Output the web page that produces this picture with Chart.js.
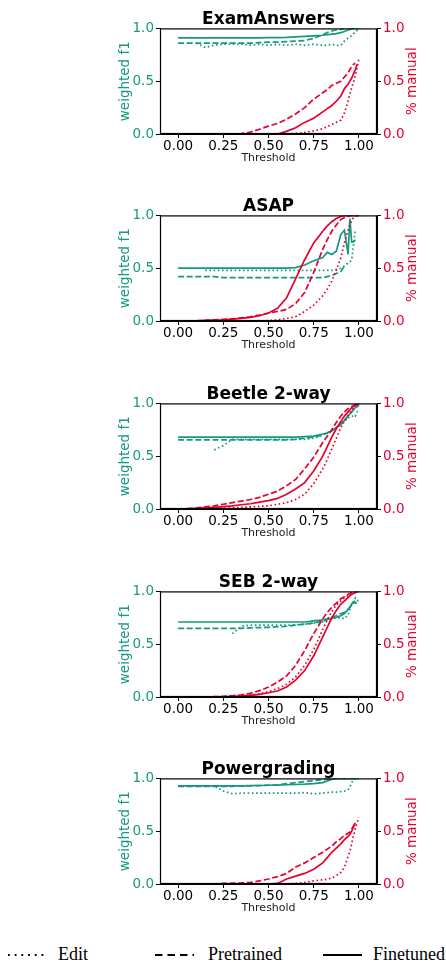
<!DOCTYPE html>
<html>
<head>
<meta charset="utf-8">
<script src="https://cdn.jsdelivr.net/npm/chart.js@4/dist/chart.umd.min.js"></script>
<style>
  body { margin: 0; background: #fff; }
  #page { position: relative; width: 446px; height: 965px; overflow: hidden; }
  .panel { position: absolute; left: 0; }
  #legend { position: absolute; left: 0; top: 935px; }
</style>
</head>
<body>
<div id="page">
  <canvas class="panel" id="p0" width="446" height="158"></canvas>
  <canvas class="panel" id="p1" width="446" height="158"></canvas>
  <canvas class="panel" id="p2" width="446" height="158"></canvas>
  <canvas class="panel" id="p3" width="446" height="158"></canvas>
  <canvas class="panel" id="p4" width="446" height="158"></canvas>
  <svg id="legend" width="446" height="30">
    <line x1="8" y1="20" x2="48" y2="20" stroke="#000" stroke-width="2" stroke-dasharray="1.8 4.9"/>
    <text x="58" y="25" font-family="Liberation Serif" font-size="18">Edit</text>
    <line x1="155" y1="20" x2="194" y2="20" stroke="#000" stroke-width="2" stroke-dasharray="7.5 5"/>
    <text x="208" y="25" font-family="Liberation Serif" font-size="18">Pretrained</text>
    <line x1="323" y1="20" x2="362" y2="20" stroke="#000" stroke-width="2"/>
    <text x="373" y="25" font-family="Liberation Serif" font-size="18">Finetuned</text>
  </svg>
</div>
<script>
// umbrales comunes (eje x)
const thresholds = [0, 0.05, 0.1, 0.15, 0.2, 0.25, 0.3, 0.35, 0.4, 0.45, 0.5, 0.55, 0.6, 0.65, 0.7, 0.75,
    0.8, 0.825, 0.85, 0.875, 0.9, 0.92, 0.94, 0.95, 0.96, 0.97, 0.98, 0.99, 1.0];
const xTicks = [0, 0.25, 0.5, 0.75, 1.0];
const yTicks = [0, 0.5, 1.0];
const titles = ['ExamAnswers', 'ASAP', 'Beetle 2-way', 'SEB 2-way', 'Powergrading'];

// ExamAnswers
const examF1Edit = [null, null, 0.86, 0.82, 0.84, 0.85, 0.85, 0.85, 0.84, 0.85, 0.84, 0.85, 0.84, 0.85, 0.84, 0.85,
    0.84, 0.84, 0.85, 0.84, 0.84, 0.88, 0.91, 0.92, 0.93, 0.95, 0.96, 0.98, 0.99];
const examF1Pre = [0.86, 0.86, 0.86, 0.86, 0.86, 0.86, 0.86, 0.86, 0.86, 0.865, 0.87, 0.87, 0.875, 0.88, 0.885, 0.905,
    0.94, 0.96, 0.975, 0.985, 0.99, 1.0, 1.0, 1.0, 1.0, 1.0, 1.0, 1.0, 1.0];
const examF1Fine = [0.91, 0.91, 0.91, 0.91, 0.91, 0.91, 0.91, 0.91, 0.91, 0.91, 0.912, 0.913, 0.915, 0.92, 0.925, 0.93,
    0.935, 0.94, 0.945, 0.95, 0.96, 0.97, 0.985, 0.99, 1.0, 1.0, 1.0, 1.0, 1.0];
const examManEdit = [0, 0, 0, 0, 0, 0, 0, 0, 0, 0, 0, 0, 0, 0.005, 0.015, 0.03,
    0.05, 0.07, 0.09, 0.11, 0.13, 0.2, 0.31, 0.38, 0.44, 0.49, 0.55, 0.63, 0.71];
const examManPre = [0, 0, 0, 0, 0, 0, 0, 0.003, 0.018, 0.045, 0.075, 0.1, 0.14, 0.19, 0.25, 0.33,
    0.39, 0.42, 0.46, 0.48, 0.5, 0.54, 0.58, 0.61, 0.64, 0.66, 0.67, null, null];
const examManFine = [0, 0, 0, 0, 0, 0, 0, 0, 0, 0, 0, 0, 0.025, 0.06, 0.11, 0.15,
    0.21, 0.24, 0.27, 0.31, 0.36, 0.43, 0.47, 0.5, 0.53, 0.57, 0.61, 0.66, null];

// ASAP
const asapF1Edit = [null, null, null, 0.48, 0.48, 0.48, 0.48, 0.48, 0.48, 0.48, 0.48, 0.48, 0.48, 0.48, 0.48, 0.48,
    0.48, 0.48, 0.48, 0.49, 0.5, 0.52, 0.55, 0.56, 0.58, 0.72, 0.87, null, null];
const asapF1Pre = [0.42, 0.42, 0.42, 0.42, 0.42, 0.41, 0.41, 0.41, 0.41, 0.41, 0.41, 0.41, 0.41, 0.41, 0.41, 0.41,
    0.41, 0.42, 0.43, 0.45, 0.47, 0.52, null, null, null, null, null, null, null];
const asapF1Fine = [0.5, 0.5, 0.5, 0.5, 0.5, 0.5, 0.5, 0.5, 0.5, 0.5, 0.5, 0.5, 0.5, 0.505, 0.53, 0.57,
    0.6, 0.65, 0.63, 0.66, 0.82, 0.86, 0.63, 0.97, 0.75, 0.75, 0.77, null, null];
const asapManEdit = [0, 0, 0, 0, 0, 0, 0, 0, 0, 0, 0.005, 0.01, 0.025, 0.04, 0.09, 0.15,
    0.24, 0.3, 0.38, 0.48, 0.6, 0.74, 0.86, 0.91, 0.95, 0.98, 0.99, 1.0, 1.0];
const asapManPre = [0, 0, 0.002, 0.005, 0.01, 0.015, 0.02, 0.03, 0.04, 0.055, 0.075, 0.09, 0.11, 0.165, 0.27, 0.46,
    0.68, 0.77, 0.85, 0.91, 0.96, 0.98, 0.99, 1.0, 1.0, 1.0, 1.0, 1.0, 1.0];
const asapManFine = [0, 0, 0.002, 0.005, 0.008, 0.012, 0.018, 0.025, 0.035, 0.05, 0.075, 0.12, 0.22, 0.4, 0.58, 0.74,
    0.85, 0.9, 0.94, 0.97, 0.99, 1.0, 1.0, 1.0, 1.0, 1.0, 1.0, 1.0, 1.0];

// Beetle 2-way
const beetleF1Edit = [null, null, null, null, 0.56, 0.6, 0.66, 0.66, 0.66, 0.66, 0.66, 0.66, 0.66, 0.66, 0.66, 0.67,
    0.7, 0.72, 0.75, 0.77, 0.8, 0.83, 0.86, 0.87, 0.87, 0.89, 0.88, 0.92, 0.94];
const beetleF1Pre = [0.655, 0.655, 0.655, 0.655, 0.655, 0.655, 0.655, 0.655, 0.655, 0.655, 0.655, 0.655, 0.655, 0.66, 0.67, 0.68,
    0.7, 0.72, 0.74, 0.77, 0.8, 0.84, 0.88, 0.9, 0.92, 0.94, 0.96, 0.97, 0.98];
const beetleF1Fine = [0.68, 0.68, 0.68, 0.68, 0.68, 0.68, 0.68, 0.68, 0.68, 0.68, 0.68, 0.68, 0.68, 0.68, 0.685, 0.69,
    0.71, 0.72, 0.74, 0.77, 0.81, 0.84, 0.88, 0.9, 0.92, 0.94, 0.96, 0.97, 0.99];
const beetleManEdit = [0, 0, 0, 0.002, 0.005, 0.007, 0.01, 0.015, 0.02, 0.025, 0.03, 0.045, 0.06, 0.09, 0.14, 0.24,
    0.38, 0.47, 0.57, 0.67, 0.77, 0.83, 0.89, 0.91, 0.94, 0.96, 0.98, 0.99, 1.0];
const beetleManPre = [0, 0.003, 0.01, 0.02, 0.03, 0.045, 0.06, 0.075, 0.09, 0.11, 0.14, 0.17, 0.22, 0.28, 0.38, 0.49,
    0.63, 0.69, 0.75, 0.82, 0.88, 0.92, 0.95, 0.96, 0.97, 0.98, 0.99, 1.0, 1.0];
const beetleManFine = [0, 0.002, 0.005, 0.01, 0.015, 0.022, 0.03, 0.04, 0.05, 0.065, 0.08, 0.1, 0.14, 0.19, 0.25, 0.36,
    0.5, 0.59, 0.68, 0.76, 0.83, 0.88, 0.92, 0.94, 0.96, 0.97, 0.98, 0.99, 1.0];

// SEB 2-way
const sebF1Edit = [null, null, null, null, null, null, 0.6, 0.67, 0.68, 0.68, 0.68, 0.68, 0.68, 0.685, 0.69, 0.7,
    0.71, 0.73, 0.74, 0.75, 0.75, 0.74, 0.78, 0.83, 0.87, 0.9, 0.94, 0.92, 0.9];
const sebF1Pre = [0.65, 0.65, 0.65, 0.65, 0.65, 0.65, 0.65, 0.65, 0.655, 0.657, 0.66, 0.665, 0.67, 0.68, 0.69, 0.7,
    0.72, 0.735, 0.755, 0.77, 0.79, 0.8, 0.83, 0.85, 0.87, 0.89, 0.91, null, null];
const sebF1Fine = [0.71, 0.71, 0.71, 0.71, 0.71, 0.71, 0.71, 0.71, 0.71, 0.71, 0.71, 0.71, 0.71, 0.71, 0.71, 0.72,
    0.73, 0.74, 0.745, 0.755, 0.77, 0.79, 0.83, 0.85, 0.88, 0.9, 0.89, 0.89, null];
const sebManEdit = [0, 0, 0, 0, 0, 0, 0.005, 0.01, 0.02, 0.03, 0.05, 0.08, 0.12, 0.19, 0.3, 0.45,
    0.64, 0.73, 0.81, 0.87, 0.91, 0.94, 0.96, 0.97, 0.98, 0.985, 0.99, 1.0, 1.0];
const sebManPre = [0, 0, 0, 0, 0.003, 0.006, 0.012, 0.02, 0.035, 0.06, 0.094, 0.14, 0.2, 0.3, 0.44, 0.6,
    0.74, 0.8, 0.85, 0.89, 0.93, 0.95, 0.97, 0.98, 0.99, 1.0, 1.0, 1.0, null];
const sebManFine = [0, 0, 0, 0, 0, 0, 0.005, 0.008, 0.015, 0.025, 0.04, 0.057, 0.094, 0.16, 0.25, 0.39,
    0.57, 0.66, 0.75, 0.82, 0.88, 0.91, 0.94, 0.96, 0.97, 0.98, 0.99, 1.0, 1.0];

// Powergrading
const powerF1Edit = [0.93, 0.93, 0.93, 0.93, 0.93, 0.88, 0.855, 0.86, 0.86, 0.86, 0.86, 0.86, 0.86, 0.86, 0.865, 0.855,
    0.86, 0.865, 0.87, 0.87, 0.875, 0.88, 0.89, 0.92, 0.96, 0.99, 1.0, null, null];
const powerF1Pre = [0.925, 0.925, 0.925, 0.925, 0.925, 0.925, 0.925, 0.927, 0.93, 0.932, 0.935, 0.94, 0.95, 0.96, 0.97, 0.98,
    0.99, 0.99, 0.995, 1.0, 1.0, 1.0, 1.0, 1.0, 1.0, 1.0, 1.0, 1.0, 1.0];
const powerF1Fine = [0.93, 0.93, 0.93, 0.93, 0.93, 0.93, 0.93, 0.93, 0.932, 0.933, 0.935, 0.937, 0.94, 0.942, 0.945, 0.95,
    0.96, 0.975, 0.99, 1.0, 1.0, 1.0, 1.0, 1.0, 1.0, 1.0, 1.0, 1.0, 1.0];
const powerManEdit = [0, 0, 0, 0, 0, 0, 0, 0, 0, 0, 0, 0, 0, 0.005, 0.015, 0.03,
    0.04, 0.045, 0.057, 0.08, 0.11, 0.16, 0.26, 0.31, 0.38, 0.46, 0.52, 0.58, 0.63];
const powerManPre = [0, 0, 0, 0, 0, 0.005, 0.008, 0.01, 0.015, 0.03, 0.047, 0.07, 0.1, 0.16, 0.2, 0.25,
    0.3, 0.33, 0.36, 0.4, 0.43, 0.46, 0.48, 0.49, 0.52, 0.55, 0.57, null, null];
const powerManFine = [0, 0, 0, 0, 0, 0, 0, 0, 0, 0, 0, 0.005, 0.047, 0.075, 0.1, 0.14,
    0.2, 0.25, 0.3, 0.34, 0.38, 0.42, 0.45, 0.47, 0.5, 0.54, 0.58, null, null];

const panelTops = [28, 215, 403, 591, 778];

const TEAL = '#16997e';
const RED = '#e6002e';
const FONT = 'DejaVu Sans';
const DOTTED = [1.6, 2.6];
const DASHED = [6, 2.6];

function toPoints(ys) {
    return thresholds.map((x, i) => ({ x: x, y: ys[i] })).filter((p) => p.y !== null);
}

function line(ys, color, dash, axis) {
    return {
        data: toPoints(ys),
        borderColor: color,
        borderWidth: 1.7,
        borderDash: dash,
        pointRadius: 0,
        tension: 0,
        fill: false,
        yAxisID: axis,
    };
}

// marco superior y etiqueta derecha "% manual"
const framePlugin = {
    id: 'frame',
    afterDraw(chart) {
        const a = chart.chartArea;
        const ctx = chart.ctx;
        ctx.save();
        ctx.strokeStyle = '#000';
        ctx.lineWidth = 1.2;
        ctx.strokeRect(a.left + 0.5, a.top + 0.5, a.right - a.left - 1, a.bottom - a.top - 1);
        ctx.translate(412, (a.top + a.bottom) / 2);
        ctx.rotate(-Math.PI / 2);
        ctx.fillStyle = RED;
        ctx.font = '13.5px "' + FONT + '"';
        ctx.textAlign = 'center';
        ctx.textBaseline = 'middle';
        ctx.fillText('% manual', 0, 0);
        ctx.restore();
    },
};

function createPanel(idx, f1Edit, f1Pre, f1Fine, manEdit, manPre, manFine) {
    const canvas = document.getElementById('p' + idx);
    canvas.style.top = (panelTops[idx] - 21) + 'px';
    const yAxis = (color, pos, width) => ({
        type: 'linear',
        position: pos,
        min: 0,
        max: 1,
        afterBuildTicks: (s) => { s.ticks = yTicks.map((v) => ({ value: v })); },
        afterFit: (s) => { s.width = width; },
        ticks: {
            color: color,
            font: { family: FONT, size: 13.5 },
            padding: 2,
            callback: (v) => v.toFixed(1),
        },
        grid: { drawOnChartArea: false, tickLength: 4, color: '#000' },
        border: { color: '#000', width: 1 },
    });
    const yLeft = yAxis(TEAL, 'left', 43);
    yLeft.title = {
        display: true,
        text: 'weighted f1',
        color: TEAL,
        font: { family: FONT, size: 13.5 },
        padding: { top: 0, bottom: 0 },
    };
    const yRight = yAxis(RED, 'right', 69);

    new Chart(canvas.getContext('2d'), {
        type: 'line',
        data: {
            datasets: [
                line(manFine, RED, [], 'y1'),
                line(manPre, RED, DASHED, 'y1'),
                line(manEdit, RED, DOTTED, 'y1'),
                line(f1Fine, TEAL, [], 'y'),
                line(f1Pre, TEAL, DASHED, 'y'),
                line(f1Edit, TEAL, DOTTED, 'y'),
            ],
        },
        options: {
            responsive: false,
            animation: false,
            layout: { padding: { top: 0, left: 117, right: 0, bottom: 0 } },
            plugins: {
                legend: { display: false },
                tooltip: { enabled: false },
                title: {
                    display: true,
                    text: titles[idx],
                    color: '#000',
                    fullSize: false,
                    font: { family: FONT, size: 17, weight: 'bold' },
                    padding: { top: 2, bottom: -1 },
                },
            },
            scales: {
                x: {
                    type: 'linear',
                    min: -0.1,
                    max: 1.1,
                    afterBuildTicks: (s) => { s.ticks = xTicks.map((v) => ({ value: v })); },
                    afterFit: (s) => { s.height = 31; },
                    ticks: {
                        color: '#000',
                        font: { family: FONT, size: 13.5 },
                        padding: 0,
                        maxRotation: 0,
                        autoSkip: false,
                        callback: (v) => v.toFixed(2),
                    },
                    grid: { drawOnChartArea: false, tickLength: 4, color: '#000' },
                    border: { color: '#000', width: 1 },
                    title: {
                        display: true,
                        text: 'Threshold',
                        color: '#222',
                        font: { family: FONT, size: 11 },
                        padding: { top: 0, bottom: 0 },
                    },
                },
                y: yLeft,
                y1: yRight,
            },
        },
        plugins: [framePlugin],
    });
}

createPanel(0, examF1Edit, examF1Pre, examF1Fine, examManEdit, examManPre, examManFine);
createPanel(1, asapF1Edit, asapF1Pre, asapF1Fine, asapManEdit, asapManPre, asapManFine);
createPanel(2, beetleF1Edit, beetleF1Pre, beetleF1Fine, beetleManEdit, beetleManPre, beetleManFine);
createPanel(3, sebF1Edit, sebF1Pre, sebF1Fine, sebManEdit, sebManPre, sebManFine);
createPanel(4, powerF1Edit, powerF1Pre, powerF1Fine, powerManEdit, powerManPre, powerManFine);
</script>
</body>
</html>
